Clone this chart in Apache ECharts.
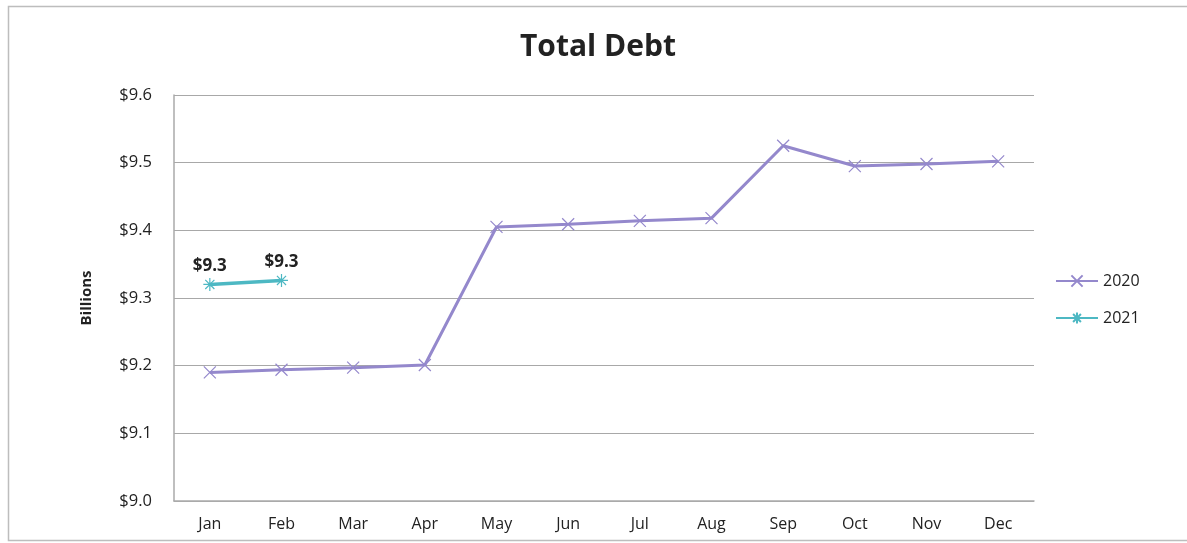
<!DOCTYPE html>
<html>
<head>
<meta charset="utf-8">
<script src="https://cdn.jsdelivr.net/npm/echarts@6/dist/echarts.min.js"></script>
<style>
  html, body { margin: 0; padding: 0; background: #fff; }
  #chart { width: 1187px; height: 543px; }
</style>
</head>
<body>
<div id="chart"></div>
<script>
// Monthly total debt, in billions
const months = ['Jan', 'Feb', 'Mar', 'Apr', 'May', 'Jun', 'Jul', 'Aug', 'Sep', 'Oct', 'Nov', 'Dec'];
const debt2020 = [9.190, 9.194, 9.197, 9.201, 9.405, 9.409, 9.414, 9.418, 9.525, 9.495, 9.498, 9.502];
const debt2021 = [9.320, 9.326];
const yTicks = { min: 9.0, max: 9.6, step: 0.1 };

const purple = '#9488CC';
const teal = '#4DB8C3';
const font = '"Open Sans", "Noto Sans", sans-serif';

const crossSymbol = 'path://M0,0L10,10M10,0L0,10';
const starSymbol = 'path://M0,5L10,5M5,0L5,10M1.5,1.5L8.5,8.5M8.5,1.5L1.5,8.5';

const chart = echarts.init(document.getElementById('chart'), null, { renderer: 'canvas' });

chart.setOption({
  backgroundColor: '#fff',
  animation: false,
  graphic: [{
    type: 'rect',
    shape: { x: 8.5, y: 6.5, width: 1200, height: 534 },
    style: { fill: 'none', stroke: '#bdbdbd', lineWidth: 1.5 },
    silent: true,
    z: -1
  }],
  title: {
    text: 'Total Debt',
    left: 515,
    top: 27,
    textStyle: { fontFamily: font, fontSize: 30, fontWeight: 'bold', color: '#222' }
  },
  legend: {
    orient: 'vertical',
    left: 1050,
    top: 268,
    itemGap: 21,
    itemWidth: 42,
    itemHeight: 14,
    textStyle: { fontFamily: font, fontSize: 16, color: '#222' },
    data: ['2020', '2021']
  },
  grid: { left: 174, right: 153, top: 95, bottom: 42 },
  xAxis: {
    type: 'category',
    data: months,
    boundaryGap: true,
    axisLine: { lineStyle: { color: '#aaa', width: 1.5 } },
    axisTick: { show: false },
    axisLabel: { fontFamily: font, fontSize: 16, color: '#222', margin: 15 }
  },
  yAxis: {
    type: 'value',
    min: yTicks.min,
    max: yTicks.max,
    interval: yTicks.step,
    name: 'Billions',
    nameLocation: 'middle',
    nameGap: 80,
    nameTextStyle: { fontFamily: font, fontSize: 15, fontWeight: 'bold', color: '#222' },
    axisLine: { show: true, lineStyle: { color: '#aaa', width: 1.5 } },
    axisTick: { show: false },
    splitLine: { lineStyle: { color: '#a8a8a8', width: 1.2 } },
    axisLabel: {
      fontFamily: font, fontSize: 16.5, color: '#222', margin: 22,
      formatter: v => '$' + v.toFixed(1)
    }
  },
  series: [
    {
      name: '2020',
      type: 'line',
      data: debt2020,
      symbol: crossSymbol,
      symbolSize: 12,
      lineStyle: { color: purple, width: 3 },
      itemStyle: { color: purple, borderColor: purple, borderWidth: 1.2 }
    },
    {
      name: '2021',
      type: 'line',
      data: debt2021,
      symbol: starSymbol,
      symbolSize: 13,
      lineStyle: { color: teal, width: 3.5 },
      itemStyle: { color: teal, borderColor: teal, borderWidth: 1.2 },
      label: {
        show: true,
        position: 'top',
        distance: 3,
        fontFamily: font,
        fontSize: 17,
        fontWeight: 'bold',
        color: '#222',
        formatter: p => '$' + p.value.toFixed(1)
      }
    }
  ]
});
</script>
</body>
</html>
